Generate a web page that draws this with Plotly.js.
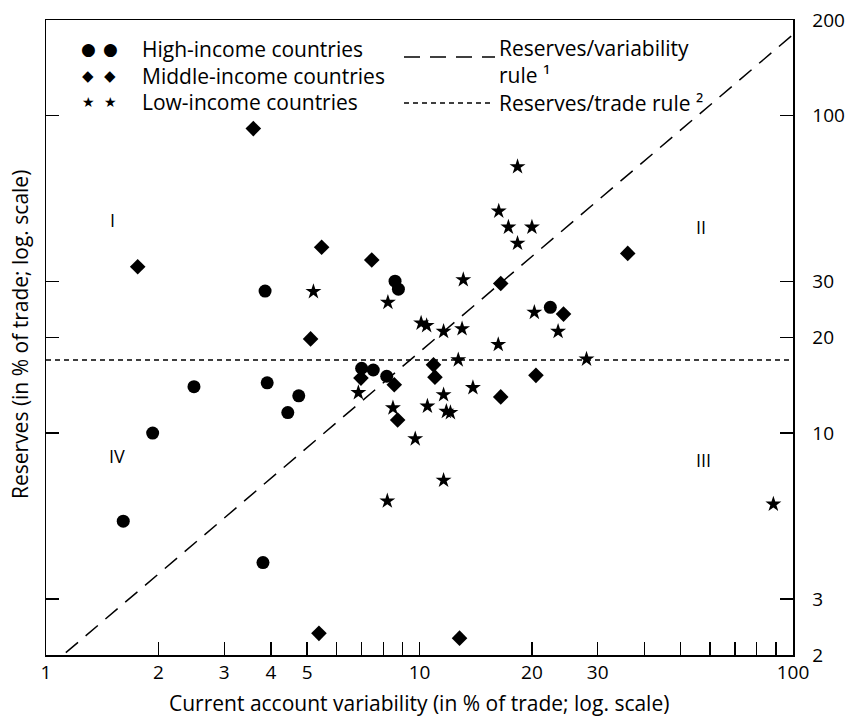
<!DOCTYPE html>
<html>
<head>
<meta charset="utf-8">
<script src="https://cdn.plot.ly/plotly-3.0.1.min.js"></script>
<style>html,body{margin:0;padding:0;background:#fff;}#chart{width:847px;height:719px;}</style>
</head>
<body>
<div id="chart"></div>
<script>
// High-income countries
const highX = [1.61, 1.93, 2.49, 3.81, 3.91, 4.44, 4.75, 3.86, 8.60, 8.78, 7.00, 7.52, 8.17, 22.4];
const highY = [5.28, 10.0, 14.0, 3.91, 14.4, 11.6, 13.1, 28.0, 30.1, 28.4, 16.0, 15.8, 15.1, 24.9];
// Middle-income countries
const midX = [3.59, 1.76, 5.47, 7.45, 5.11, 6.97, 8.56, 8.74, 10.9, 11.0, 16.5, 24.3, 20.5, 16.5, 36.1, 5.38, 12.8];
const midY = [91.0, 33.4, 38.5, 35.1, 19.8, 14.9, 14.2, 11.0, 16.4, 15.0, 29.6, 23.7, 15.2, 13.0, 36.8, 2.34, 2.26];
// Low-income countries
const lowX = [5.20, 8.23, 10.1, 10.45, 11.6, 13.0, 13.1, 12.7, 6.86, 8.49, 9.74, 10.5, 11.6, 11.8, 12.1, 13.9, 11.6, 8.20, 16.25, 23.5, 20.3, 28.0, 18.3, 16.3, 17.3, 20.0, 18.3, 88.6];
const lowY = [27.9, 25.8, 22.2, 21.8, 20.9, 21.3, 30.4, 17.0, 13.4, 12.0, 9.59, 12.15, 13.2, 11.7, 11.6, 13.9, 7.10, 6.11, 19.0, 20.9, 24.0, 17.1, 69.0, 50.0, 44.5, 44.5, 39.6, 5.97];
// Rules
const variabilityRuleX = [1, 100];
const variabilityRuleY = [1.8, 180];
const tradeRuleX = [1, 100];
const tradeRuleY = [17, 17];
// Ticks
const xTickVals = [1,2,3,4,5,6,7,8,9,10,20,30,40,50,60,70,80,90,100];
const xTickText = ['1','2','3','4','5','','','','','10','20','30','','','','','','','100'];
const yTickVals = [2, 3, 10, 20, 30, 100, 200];
const yTickText = ['2', '3', '10', '20', '30', '100', '200'];
// Texts
const xTitle = 'Current account variability (in % of trade; log. scale)';
const yTitle = 'Reserves (in % of trade; log. scale)';
const legendLabels = ['High-income countries', 'Middle-income countries', 'Low-income countries'];
const legendGlyphs = ['\u25CF', '\u25C6', '\u2605'];
const ruleLabels = ['Reserves/variability<br>rule \u00B9', 'Reserves/trade rule \u00B2'];
const quadrantLabels = ['I', 'II', 'III', 'IV'];

const FONT = 'Open Sans, sans-serif';
const BLACK = '#000';
const TXT = 21;

const traces = [
  {x: variabilityRuleX, y: variabilityRuleY, mode: 'lines', line: {color: BLACK, width: 1.5, dash: '16px,10px'}, hoverinfo: 'skip'},
  {x: tradeRuleX, y: tradeRuleY, mode: 'lines', line: {color: BLACK, width: 1.5, dash: '5px,4px'}, hoverinfo: 'skip'},
  {x: highX, y: highY, mode: 'markers', marker: {symbol: 'circle', size: 13, color: BLACK}},
  {x: midX, y: midY, mode: 'markers', marker: {symbol: 'diamond', size: 12, color: BLACK}},
  {x: lowX, y: lowY, mode: 'markers', marker: {symbol: 'star', size: 12, color: BLACK}}
];

// plot area geometry in pixels
const L = 46, T = 20, W = 747, H = 635;
const px = v => (v - L) / W;
const py = v => (T + H - v) / H;

const annotations = [];
const glyphSizes = [17, 15, 14];
const rowY = [49, 76, 102];
for (let i = 0; i < 3; i++) {
  [88, 110].forEach(gx => {
    annotations.push({xref: 'paper', yref: 'paper', x: px(gx), y: py(rowY[i]), text: legendGlyphs[i],
      showarrow: false, xanchor: 'center', yanchor: 'middle', font: {family: 'DejaVu Sans', size: glyphSizes[i], color: BLACK}});
  });
  annotations.push({xref: 'paper', yref: 'paper', x: px(140), y: py(rowY[i]), text: legendLabels[i],
    showarrow: false, xanchor: 'left', yanchor: 'middle', font: {family: FONT, size: TXT, color: BLACK}});
}
const ruleRowY = [61, 103];
ruleLabels.forEach((t, i) => {
  annotations.push({xref: 'paper', yref: 'paper', x: px(498), y: py(ruleRowY[i]), text: t, align: 'left', borderpad: 0,
    showarrow: false, xanchor: 'left', yanchor: 'middle', font: {family: FONT, size: TXT, color: BLACK}});
});
// quadrant labels
const qPos = [[112, 220], [701, 227], [703, 460], [117, 456]];
quadrantLabels.forEach((q, i) => {
  annotations.push({xref: 'paper', yref: 'paper', x: px(qPos[i][0]), y: py(qPos[i][1]), text: q,
    showarrow: false, xanchor: 'center', yanchor: 'middle', font: {family: FONT, size: 18, color: BLACK}});
});
// axis titles
annotations.push({xref: 'paper', yref: 'paper', x: px(419), y: py(703), text: xTitle,
  showarrow: false, xanchor: 'center', yanchor: 'middle', font: {family: FONT, size: TXT, color: BLACK}});
annotations.push({xref: 'paper', yref: 'paper', x: px(20), y: py(335), text: yTitle, textangle: -90,
  showarrow: false, xanchor: 'center', yanchor: 'middle', font: {family: FONT, size: TXT, color: BLACK}});

const shapes = [
  {type: 'line', xref: 'paper', yref: 'paper', x0: px(404), x1: px(495), y0: py(57), y1: py(57), line: {color: BLACK, width: 1.5, dash: '16px,10px'}},
  {type: 'line', xref: 'paper', yref: 'paper', x0: px(404), x1: px(490), y0: py(103), y1: py(103), line: {color: BLACK, width: 1.5, dash: '5px,4px'}}
];

const layout = {
  width: 847, height: 719,
  margin: {l: L, r: 847 - L - W, t: T, b: 719 - T - H},
  paper_bgcolor: '#fff', plot_bgcolor: '#fff',
  showlegend: false,
  font: {family: FONT, color: BLACK, size: 19},
  xaxis: {
    type: 'log', range: [0, 2], tickvals: xTickVals, ticktext: xTickText,
    ticks: 'inside', ticklen: 13, tickwidth: 1.3, tickcolor: BLACK,
    showline: true, linecolor: BLACK, linewidth: 1.5, mirror: true,
    showgrid: false, zeroline: false, tickfont: {family: FONT, size: 19, color: BLACK}
  },
  yaxis: {
    type: 'log', range: [Math.log10(2), Math.log10(200)], tickvals: yTickVals, ticktext: yTickText,
    side: 'right', ticks: 'inside', ticklen: 13, tickwidth: 1.3, tickcolor: BLACK,
    showline: true, linecolor: BLACK, linewidth: 1.5, mirror: 'ticks',
    showgrid: false, zeroline: false, tickfont: {family: FONT, size: 19, color: BLACK},
    ticklabelstandoff: 14
  },
  annotations: annotations,
  shapes: shapes
};

Plotly.newPlot('chart', traces, layout, {displayModeBar: false, staticPlot: true});
</script>
</body>
</html>
